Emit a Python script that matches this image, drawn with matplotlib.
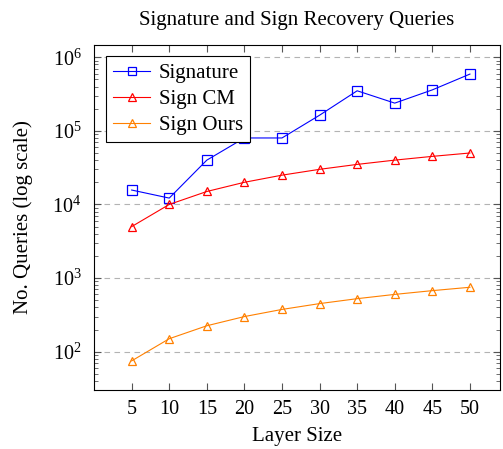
import matplotlib
matplotlib.use("Agg")
import matplotlib.pyplot as plt
from matplotlib.ticker import LogLocator, NullFormatter

# Data.
layer_sizes = [5, 10, 15, 20, 25, 30, 35, 40, 45, 50]
signature = [15700, 12200, 40000, 80000, 80000, 163000, 350000, 238000, 360000, 590000]
sign_cm = [5000, 10000, 15000, 20000, 25000, 30000, 35000, 40000, 45000, 50000]
sign_ours = [75, 150, 225, 300, 375, 450, 525, 600, 675, 750]

plt.rcParams['font.family'] = ['Liberation Serif', 'DejaVu Serif']
plt.rcParams['mathtext.fontset'] = 'stix'

fig = plt.figure(figsize=(5.03, 4.49), dpi=100)
ax = fig.add_axes([0.187, 0.131, 0.807, 0.769])

ax.plot(layer_sizes, signature, color="blue", marker="s", markersize=7,
        markerfacecolor="none", markeredgewidth=0.9, linewidth=0.8, label="Signature")
ax.plot(layer_sizes, sign_cm, color="red", marker="^", markersize=6,
        markerfacecolor="none", markeredgewidth=0.9, linewidth=0.8, label="Sign CM")
ax.plot(layer_sizes, sign_ours, color="#ff8000", marker="^", markersize=6,
        markerfacecolor="none", markeredgewidth=0.9, linewidth=0.8, label="Sign Ours")

ax.set_yscale("log")
ax.set_xlim(0, 54)
ax.set_ylim(30, 1.47e6)
ax.set_xticks(layer_sizes)
ax.yaxis.set_major_locator(LogLocator(base=10, numticks=10))
ax.yaxis.set_minor_locator(LogLocator(base=10, subs=range(2, 10), numticks=10))
ax.yaxis.set_minor_formatter(NullFormatter())

ax.grid(axis="y", which="major", linestyle=(0, (5, 4)), color="#b3b3b3", linewidth=0.8)
ax.tick_params(which="both", direction="in", top=True, right=True, labelsize=14.5)
ax.tick_params(which="major", length=5, color="#555555")
ax.tick_params(which="minor", length=3, color="#555555")
ax.tick_params(axis="x", pad=7)
ax.tick_params(axis="y", pad=9)

ax.set_title("Signature and Sign Recovery Queries", fontsize=15, pad=14)
ax.set_xlabel("Layer Size", fontsize=15, labelpad=6)
ax.set_ylabel("No. Queries (log scale)", fontsize=15, labelpad=14)

leg = ax.legend(loc="upper left", fontsize=15, fancybox=False, edgecolor="black",
                framealpha=1, borderpad=0.35, labelspacing=0.3, handlelength=1.8,
                borderaxespad=0.55, handletextpad=0.4, markerscale=0.85)
leg.get_frame().set_linewidth(0.8)

fig.savefig("out.png", dpi=100)
